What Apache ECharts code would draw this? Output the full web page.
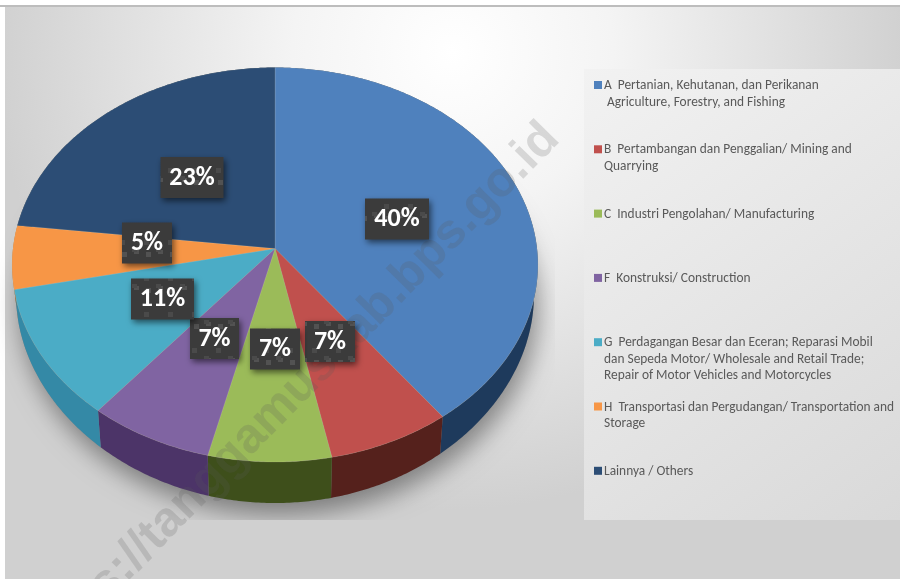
<!DOCTYPE html>
<html><head><meta charset="utf-8">
<style>html,body{margin:0;padding:0;background:#fff}#c{width:900px;height:579px}</style>
<script src="https://cdn.jsdelivr.net/npm/echarts@6/dist/echarts.min.js"></script>
</head><body><div id="c"></div>
<script>
const categories = ['A','B','C','F','G','H','Lainnya'];
const shares = [39.8, 7.0, 7.0, 7.1, 10.8, 5.2, 23.1];
const percentLabels = ['40%','7%','7%','7%','11%','5%','23%'];
const legendLines = [
  ['A  Pertanian, Kehutanan, dan Perikanan',' Agriculture, Forestry, and Fishing'],
  ['B  Pertambangan dan Penggalian/ Mining and','Quarrying'],
  ['C  Industri Pengolahan/ Manufacturing'],
  ['F  Konstruksi/ Construction'],
  ['G  Perdagangan Besar dan Eceran; Reparasi Mobil','dan Sepeda Motor/ Wholesale and Retail Trade;','Repair of Motor Vehicles and Motorcycles'],
  ['H  Transportasi dan Pergudangan/ Transportation and','Storage'],
  ['Lainnya / Others']
];
const topColors = ['#4f81bd','#c0504d','#9bbb59','#8064a2','#4bacc6','#f79646','#2c4d75'];
const wallColors = ['#1e3a5c','#55211c','#3e4f1b','#4c3468','#3489a6','#b5651d','#1a3350'];
const labelCenters = [[397,219],[330,341.5],[275,349],[214.5,338.5],[162.5,299],[147,243],[192,177.5]];
const labelWidths = [64,50,50,49,63,50,63];
const watermark = 'https://tanggamuskab.bps.go.id';

const apex = [275, 248.6], rx = 262, ry = 195.9, k = 0.082;
function topPt(t){ const u=Math.sin(t), v=-Math.cos(t), d=1-k*v;
  return [apex[0]+rx*u/d, apex[1]+ry*v/d]; }
function lowPt(t){ const p=topPt(t), v=-Math.cos(t);
  return [apex[0]+(p[0]-apex[0])*0.985, p[1]+30+11*v*v]; }
function arc(fn,a,b){ const n=Math.max(2,Math.ceil((b-a)/0.01)), o=[];
  for(let i=0;i<=n;i++) o.push(fn(a+(b-a)*i/n)); return o; }
const total = shares.reduce((a,b)=>a+b,0);
function bounds(i){ let s=0; for(let j=0;j<i;j++) s+=shares[j];
  return [s/total*2*Math.PI,(s+shares[i])/total*2*Math.PI]; }

function pattern(){
  const c=document.createElement('canvas'); c.width=24;c.height=36;
  const g=c.getContext('2d'); g.fillStyle='#3b3b3b'; g.fillRect(0,0,24,36);
  g.fillStyle='#525252';
  g.fillRect(2,0,5,5); g.fillRect(14,34,5,2); g.fillRect(14,0,5,2);
  g.fillStyle='#4a4a4a'; g.fillRect(0,24,5,5); g.fillRect(12,32,5,4);
  return c;
}
const pat = pattern();

const chart = echarts.init(document.getElementById('c'),null,{renderer:'canvas'});
const legendGraphics = [];
legendLines.forEach((lines,i)=>{
  const y = 85 + i*64.3;
  legendGraphics.push({type:'rect',z:5,shape:{x:594,y:y-4,width:8,height:8},style:{fill:topColors[i]}});
  lines.forEach((ln,j)=>legendGraphics.push({type:'text',z:5,x:604,y:y+0.7+j*16.6,
    style:{text:ln,fill:'#595959',font:'13.4px Carlito, Lato, sans-serif',textVerticalAlign:'middle'}}));
});

chart.setOption({
  animation:false,
  graphic:[
    {type:'rect',z:-10,shape:{x:0,y:0,width:900,height:579},style:{fill:'#ffffff'}},
    {type:'rect',z:-9,shape:{x:5,y:6,width:895,height:573},style:{fill:{type:'radial',x:0.5,y:0.08,r:0.8,
      colorStops:[{offset:0,color:'#ffffff'},{offset:0.35,color:'#f4f4f4'},{offset:0.75,color:'#dedede'},{offset:1,color:'#d0d0d0'}]}}},
    {type:'rect',z:-8,shape:{x:0,y:5,width:900,height:2},style:{fill:'#bdbdbd'}},
    {type:'rect',z:-7,shape:{x:584,y:69,width:316,height:451},style:{fill:{type:'linear',x:0,y:0,x2:1,y2:1,
      colorStops:[{offset:0,color:'#f2f2f2'},{offset:1,color:'#d9d9d9'}]}}},
    ...legendGraphics,
    {type:'text',z:20,x:569,y:148,rotation:Math.PI/180*45.5,
      style:{text:watermark,fill:'rgba(90,90,90,0.2)',font:'bold 49px "Liberation Sans", Arial, sans-serif',
      textAlign:'right',textVerticalAlign:'bottom'}}
  ],
  series:[
    {type:'custom',coordinateSystem:'none',silent:true,z:2,data:[0],
      renderItem(){ const pts=arc(lowPt,0,2*Math.PI);
        return {type:'group',clipPath:{type:'rect',shape:{x:0,y:0,width:555,height:520}},children:[
          {type:'polygon',shape:{points:pts},style:{fill:'#888',shadowBlur:24,shadowColor:'rgba(0,0,0,0.4)',shadowOffsetX:4,shadowOffsetY:12}}]}; }},
    {type:'custom',coordinateSystem:'none',silent:true,z:3,data:shares,
      renderItem(p){ const [a,b]=bounds(p.dataIndex);
        const pts=arc(topPt,a,b).concat(arc(lowPt,a,b).reverse());
        return {type:'polygon',shape:{points:pts},style:{fill:wallColors[p.dataIndex]}}; }},
    {type:'custom',coordinateSystem:'none',silent:true,z:4,data:shares,
      renderItem(p){ const [a,b]=bounds(p.dataIndex);
        const pts=[apex].concat(arc(topPt,a,b));
        return {type:'polygon',shape:{points:pts},style:{fill:topColors[p.dataIndex],stroke:'rgba(225,215,190,0.15)',lineWidth:1}}; }},
    {type:'custom',coordinateSystem:'none',silent:true,z:30,data:percentLabels,
      renderItem(p){ const i=p.dataIndex,c=labelCenters[i],w=labelWidths[i],h=41;
        return {type:'group',children:[
          {type:'rect',shape:{x:c[0]-w/2,y:c[1]-h/2,width:w,height:h},
            style:{fill:{image:pat,repeat:'repeat'},shadowBlur:6,shadowColor:'rgba(0,0,0,0.55)',shadowOffsetX:2,shadowOffsetY:3}},
          {type:'text',x:c[0],y:c[1]+0.5,style:{text:percentLabels[i],fill:'#fff',font:'bold 26px Carlito, Lato, sans-serif',align:'center',verticalAlign:'middle'}}
        ]}; }}
  ]
});
</script></body></html>
